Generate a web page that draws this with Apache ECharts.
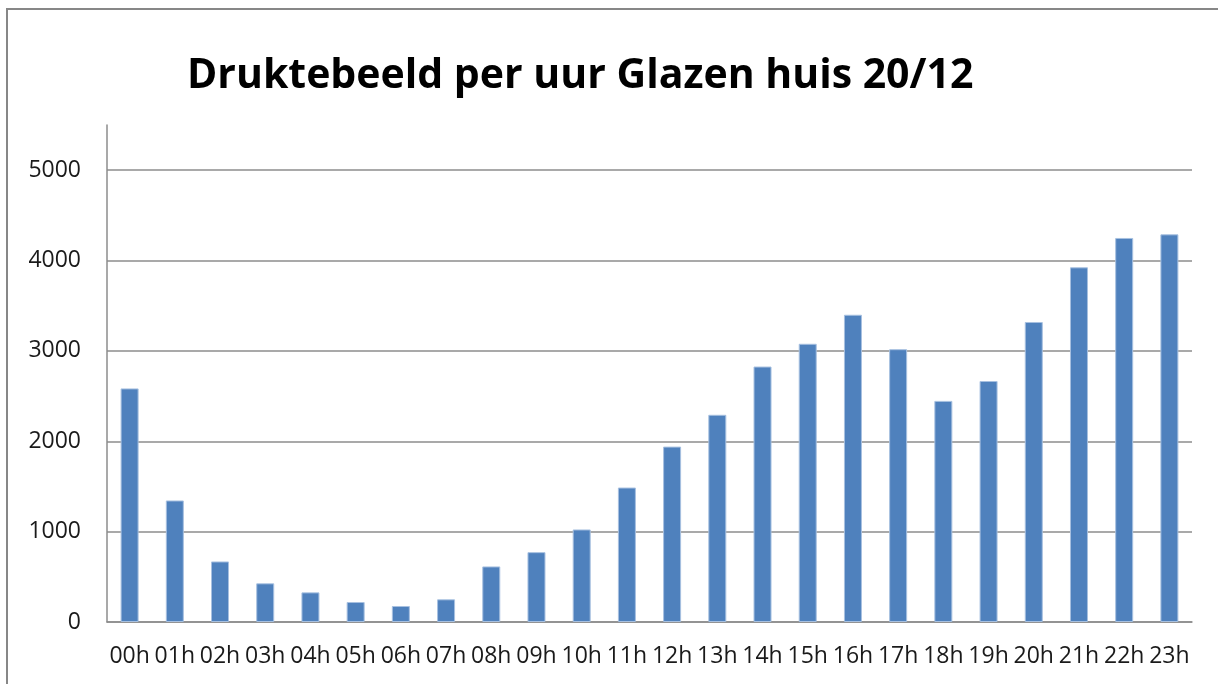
<!DOCTYPE html>
<html>
<head>
<meta charset="utf-8">
<script src="https://cdn.jsdelivr.net/npm/echarts@6/dist/echarts.min.js"></script>
<style>
  html, body { margin: 0; padding: 0; background: #fff; }
  #chart { width: 1218px; height: 684px; }
</style>
</head>
<body>
<div id="chart"></div>
<script>
var hours = ['00h', '01h', '02h', '03h', '04h', '05h', '06h', '07h', '08h', '09h', '10h', '11h',
  '12h', '13h', '14h', '15h', '16h', '17h', '18h', '19h', '20h', '21h', '22h', '23h'];
var visitors = [2585, 1345, 670, 428, 328, 221, 177, 251, 615, 773, 1024, 1488,
  1941, 2293, 2827, 3079, 3400, 3019, 2447, 2667, 3320, 3925, 4250, 4290];
var titleText = 'Druktebeeld per uur Glazen huis 20/12';

var chart = echarts.init(document.getElementById('chart'));
var gray = '#8c8c8c';

var option = {
  animation: false,
  backgroundColor: '#fff',
  textStyle: { fontFamily: 'Open Sans' },
  title: {
    text: titleText,
    left: 182,
    top: 51,
    textStyle: {
      fontFamily: 'Open Sans',
      fontWeight: 'bold',
      fontSize: 41,
      color: '#000'
    }
  },
  graphic: [{
    type: 'rect',
    shape: { x: 7, y: 9, width: 1240, height: 720 },
    style: { fill: 'none', stroke: '#878787', lineWidth: 2 },
    silent: true
  }],
  grid: { left: 107, right: 26, top: 125, bottom: 62 },
  xAxis: {
    type: 'category',
    data: hours,
    axisLine: { lineStyle: { color: gray, width: 1.5 } },
    axisTick: { show: false },
    axisLabel: { interval: 0, margin: 23, fontSize: 23, color: '#1a1a1a' }
  },
  yAxis: {
    type: 'value',
    min: 0,
    max: 5500,
    interval: 1000,
    axisLine: { show: true, lineStyle: { color: gray, width: 1.5 } },
    axisTick: { show: false },
    axisLabel: {
      margin: 26, fontSize: 23, color: '#1a1a1a', showMaxLabel: false,
      formatter: function (v) { return String(v); }
    },
    splitLine: { showMaxLine: false, lineStyle: { color: gray, width: 1.5 } }
  },
  series: [{
    type: 'bar',
    data: visitors,
    barWidth: 18,
    itemStyle: { color: '#4f81bd', borderColor: '#a7c0e0', borderWidth: 1 }
  }]
};

chart.setOption(option);
</script>
</body>
</html>
